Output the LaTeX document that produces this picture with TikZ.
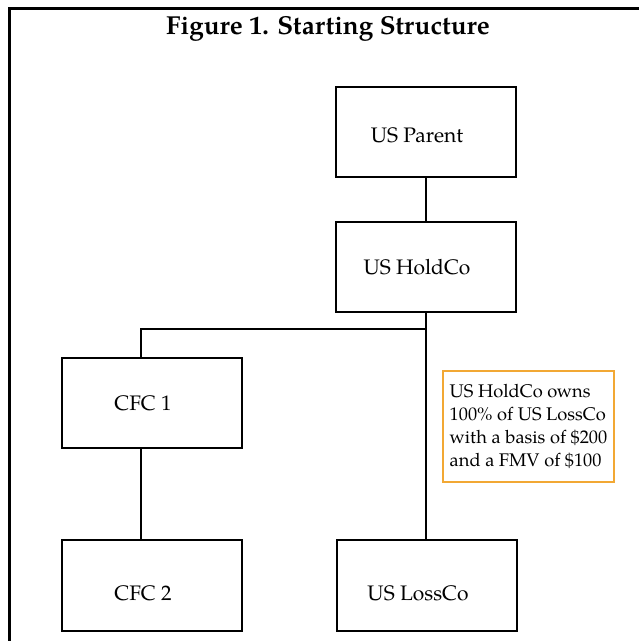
\documentclass[tikz,border=0pt]{standalone}
\usepackage{fontspec}
\setmainfont{texgyrepagella}[
  Extension=.otf,
  UprightFont=*-regular,
  BoldFont=*-bold,
  ItalicFont=*-italic,
  BoldItalicFont=*-bolditalic]
\definecolor{noteorange}{RGB}{242,168,52}
\tikzset{
  entity/.style={draw=black, line width=1.6pt, minimum width=180pt,
    minimum height=90pt, inner sep=0pt},
  entitytext/.style={font=\fontsize{21}{24}\selectfont, xshift=-9pt},
  link/.style={draw=black, line width=1.6pt},
  notebox/.style={draw=noteorange, line width=1.6pt, minimum width=171pt,
    minimum height=111pt, align=left, inner sep=2pt,
    font=\fontsize{18.3}{23}\selectfont},
  frame/.style={draw=black, line width=3pt}
}
\begin{document}
\begin{tikzpicture}[x=1pt, y=-1pt]
  \useasboundingbox (0,0) rectangle (639,641);
  \fill[white] (0,0) rectangle (639,641);
  % outer frame (top and left edges only)
  \draw[frame] (9,641) -- (9,8.5) -- (639,8.5);

  \node[font=\bfseries\fontsize{26}{30}\selectfont] (title) at (328,29)
    {Figure 1. Starting Structure};

  \node[entity, label={[entitytext, yshift=-3pt]center:US Parent}] (parent)
    at (426,132) {};
  \node[entity, label={[entitytext]center:US HoldCo}] (holdco) at (426,267) {};
  \node[entity, label={[entitytext]center:CFC 1}] (cfc1) at (152,403) {};
  \node[entity, minimum height=91pt, label={[entitytext, yshift=-8pt]center:CFC 2}]
    (cfc2) at (152,585.5) {};
  \node[entity, minimum height=91pt, label={[entitytext, yshift=-8pt]center:US LossCo}]
    (lossco) at (427,585.5) {};

  \node[notebox] (note) at (528.5,426.5)
    {US HoldCo owns\\100\% of US LossCo\\with a basis of \$200\\and a FMV of \$100};

  \coordinate (split) at (426,329);
  \draw[link] (parent.south) -- (holdco.north);
  \draw[link] (holdco.south) -- (holdco.south |- lossco.north);
  \draw[link] (split) -| ([xshift=-11pt]cfc1.north);
  \draw[link] ([xshift=-11pt]cfc1.south) -- ([xshift=-11pt]cfc2.north);
\end{tikzpicture}
\end{document}
